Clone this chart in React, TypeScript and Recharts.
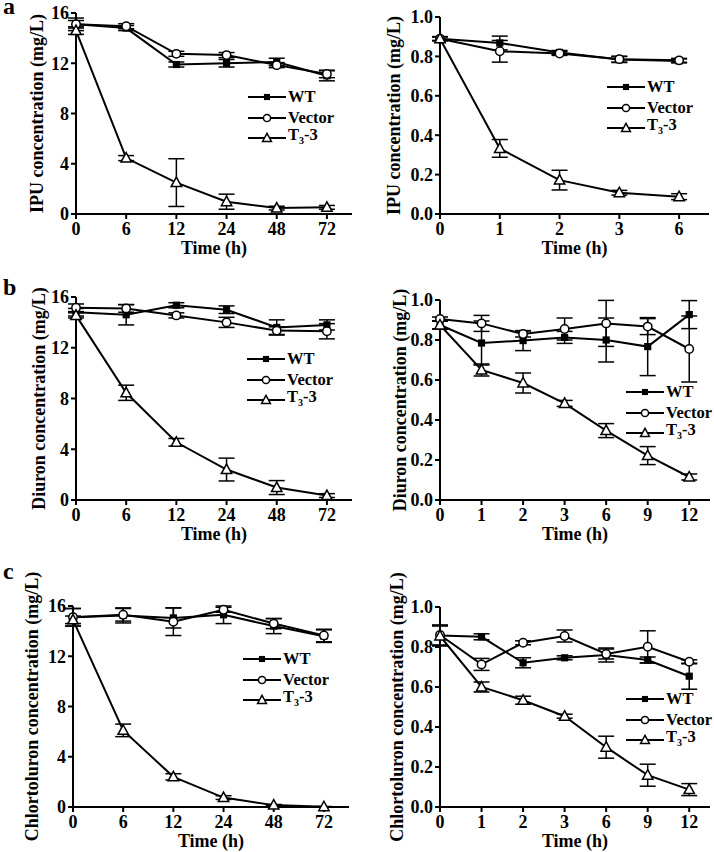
import React from 'react';
import { LineChart, Line, XAxis, YAxis, ErrorBar, Legend } from 'recharts';

const FONT = '"Liberation Serif", "Times New Roman", serif';

// --- a: IPU ---
const ipuLongTimes = ['0', '6', '12', '24', '48', '72'];
const ipuLongWT = [15.1, 14.8, 11.9, 12.0, 12.1, 11.0];
const ipuLongWTErr = [0.3, 0.2, 0.2, 0.3, 0.3, 0.4];
const ipuLongVec = [15.1, 14.95, 12.75, 12.65, 11.85, 11.15];
const ipuLongVecErr = [0.5, 0.2, 0.2, 0.2, 0.2, 0.3];
const ipuLongT3 = [14.6, 4.45, 2.5, 0.98, 0.47, 0.53];
const ipuLongT3Err = [0.3, 0.2, 1.9, 0.6, 0.15, 0.15];

const ipuShortTimes = ['0', '1', '2', '3', '6'];
const ipuShortWT = [0.89, 0.868, 0.82, 0.784, 0.777];
const ipuShortWTErr = [0.01, 0.035, 0.01, 0.015, 0.01];
const ipuShortVec = [0.89, 0.826, 0.815, 0.786, 0.78];
const ipuShortVecErr = [0.01, 0.055, 0.01, 0.015, 0.01];
const ipuShortT3 = [0.89, 0.333, 0.172, 0.108, 0.088];
const ipuShortT3Err = [0.01, 0.045, 0.05, 0.012, 0.015];

// --- b: Diuron ---
const diuLongTimes = ['0', '6', '12', '24', '48', '72'];
const diuLongWT = [14.8, 14.6, 15.35, 15.0, 13.6, 13.8];
const diuLongWTErr = [0.3, 0.8, 0.2, 0.3, 0.6, 0.4];
const diuLongVec = [15.15, 15.1, 14.55, 14.0, 13.35, 13.3];
const diuLongVecErr = [0.3, 0.3, 0.2, 0.4, 0.3, 0.6];
const diuLongT3 = [14.55, 8.45, 4.55, 2.4, 0.98, 0.35];
const diuLongT3Err = [0.2, 0.6, 0.3, 0.9, 0.55, 0.15];

const diuShortTimes = ['0', '1', '2', '3', '6', '9', '12'];
const diuShortWT = [0.875, 0.785, 0.797, 0.813, 0.8, 0.767, 0.927];
const diuShortWTErr = [0.02, 0.11, 0.05, 0.03, 0.11, 0.145, 0.07];
const diuShortVec = [0.905, 0.883, 0.83, 0.855, 0.883, 0.867, 0.755];
const diuShortVecErr = [0.01, 0.04, 0.015, 0.055, 0.115, 0.04, 0.165];
const diuShortT3 = [0.875, 0.65, 0.585, 0.483, 0.347, 0.222, 0.115];
const diuShortT3Err = [0.02, 0.03, 0.05, 0.015, 0.035, 0.045, 0.015];

// --- c: Chlortoluron ---
const chlLongTimes = ['0', '6', '12', '24', '48', '72'];
const chlLongWT = [15.1, 15.25, 15.05, 15.3, 14.4, 13.6];
const chlLongWTErr = [0.7, 0.6, 0.8, 0.7, 0.6, 0.5];
const chlLongVec = [15.1, 15.3, 14.75, 15.7, 14.6, 13.65];
const chlLongVecErr = [0.7, 0.5, 1.1, 0.2, 0.4, 0.5];
const chlLongT3 = [14.9, 6.1, 2.4, 0.75, 0.15, 0.02];
const chlLongT3Err = [0.3, 0.5, 0.25, 0.15, 0.05, 0.02];

const chlShortTimes = ['0', '1', '2', '3', '6', '9', '12'];
const chlShortWT = [0.858, 0.851, 0.721, 0.746, 0.76, 0.735, 0.654];
const chlShortWTErr = [0.05, 0.015, 0.025, 0.01, 0.035, 0.015, 0.065];
const chlShortVec = [0.86, 0.713, 0.821, 0.855, 0.765, 0.801, 0.726];
const chlShortVecErr = [0.05, 0.03, 0.01, 0.03, 0.025, 0.08, 0.01];
const chlShortT3 = [0.855, 0.6, 0.534, 0.454, 0.299, 0.159, 0.087];
const chlShortT3Err = [0.05, 0.025, 0.02, 0.01, 0.055, 0.055, 0.03];

const longTicks = [0, 4, 8, 12, 16];
const shortTicks = [0, 0.2, 0.4, 0.6, 0.8, 1.0];

function buildRows(times: string[], wt: number[], wtE: number[], vec: number[], vecE: number[], t3: number[], t3E: number[]) {
  return times.map((t, i) => ({
    i, time: t,
    wt: wt[i], wtErr: wtE[i],
    vec: vec[i], vecErr: vecE[i],
    t3: t3[i], t3Err: t3E[i],
  }));
}

function Marker({ kind, cx, cy, s = 1 }: { kind: string; cx: number; cy: number; s?: number }) {
  if (cx == null || cy == null) return null;
  if (kind === 'wt') {
    const h = 3.6 * s;
    return <rect x={cx - h} y={cy - h} width={2 * h} height={2 * h} fill="#000" />;
  }
  if (kind === 'vec') {
    return <circle cx={cx} cy={cy} r={4.2 * s} fill="#fff" stroke="#000" strokeWidth={1.5} />;
  }
  return (
    <polygon
      points={`${cx},${cy - 5.5 * s} ${cx + 5.2 * s},${cy + 4 * s} ${cx - 5.2 * s},${cy + 4 * s}`}
      fill="#fff" stroke="#000" strokeWidth={1.5}
    />
  );
}

const LegendBox = () => {
  const rows = [
    { kind: 'wt', label: <>WT</> },
    { kind: 'vec', label: <>Vector</> },
    { kind: 't3', label: <>T<sub style={{ fontSize: 10, verticalAlign: -4 }}>3</sub>-3</> },
  ];
  return (
    <div style={{ fontFamily: FONT, fontWeight: 'bold', fontSize: 16.5, color: '#000' }}>
      {rows.map((r) => (
        <div key={r.kind} style={{ display: 'flex', alignItems: 'center', height: 20.5, lineHeight: '20px' }}>
          <svg width={38} height={14} style={{ display: 'block', flex: 'none' }}>
            <line x1={0} y1={7} x2={38} y2={7} stroke="#000" strokeWidth={2} />
            <Marker kind={r.kind} cx={19} cy={7} s={0.85} />
          </svg>
          <span style={{ marginLeft: 2, whiteSpace: 'nowrap' }}>{r.label}</span>
        </div>
      ))}
    </div>
  );
};

interface PanelProps {
  rows: any[];
  times: string[];
  yMax: number;
  yTicks: number[];
  decimals: number;
  yLabel: string;
  left: number;
  plotTop: number;
  plotBottom: number;
  yAxisWidth: number;
  marginRight: number;
  labelOffset: number;
  legendLeft: number;
  legendRowY: number;
}

const TOP_PAD = 40;

function Panel(p: PanelProps) {
  const n = p.times.length;
  const chartTop = p.plotTop - TOP_PAD;
  const height = p.plotBottom - p.plotTop + TOP_PAD + 62;
  const axisStyle = { stroke: '#000', strokeWidth: 2 };
  const tickStyle = { fill: '#000', fontSize: 18, fontWeight: 'bold', fontFamily: FONT };
  return (
    <div style={{ position: 'absolute', left: p.left, top: chartTop }}>
      <LineChart
        width={357}
        height={height}
        data={p.rows}
        margin={{ top: TOP_PAD, right: p.marginRight, bottom: 0, left: 0 }}
      >
        <XAxis
          dataKey="i"
          type="number"
          domain={[0, n - 0.5]}
          ticks={p.times.map((_, i) => i)}
          interval={0}
          tickFormatter={(v: number) => p.times[v]}
          height={62}
          tickSize={5}
          tickMargin={3}
          axisLine={axisStyle}
          tickLine={axisStyle}
          tick={tickStyle}
          label={{ value: 'Time (h)', position: 'insideTop', offset: 27, style: { ...tickStyle, fill: '#000' } }}
        />
        <YAxis
          type="number"
          domain={[0, p.yMax]}
          ticks={p.yTicks}
          interval={0}
          width={p.yAxisWidth}
          tickSize={5}
          tickMargin={2}
          tickFormatter={(v: number) => v.toFixed(p.decimals)}
          axisLine={axisStyle}
          tickLine={axisStyle}
          tick={tickStyle}
          label={{
            value: p.yLabel, angle: -90, position: 'insideLeft', offset: p.labelOffset,
            style: { ...tickStyle, textAnchor: 'middle' },
          }}
        />
        <Legend
          layout="vertical"
          align="center"
          verticalAlign="middle"
          content={() => <LegendBox />}
          wrapperStyle={{ left: p.legendLeft, top: p.legendRowY - chartTop - 10, width: 88, height: 62 }}
        />
        <Line dataKey="wt" name="WT" stroke="#000" strokeWidth={2} isAnimationActive={false}
          dot={(d: any) => <Marker key={`wt-${d.index}`} kind="wt" cx={d.cx} cy={d.cy} />}>
          <ErrorBar dataKey="wtErr" direction="y" width={8} stroke="#000" strokeWidth={1.5} />
        </Line>
        <Line dataKey="vec" name="Vector" stroke="#000" strokeWidth={2} isAnimationActive={false}
          dot={(d: any) => <Marker key={`vec-${d.index}`} kind="vec" cx={d.cx} cy={d.cy} />}>
          <ErrorBar dataKey="vecErr" direction="y" width={8} stroke="#000" strokeWidth={1.5} />
        </Line>
        <Line dataKey="t3" name="T3-3" stroke="#000" strokeWidth={2} isAnimationActive={false}
          dot={(d: any) => <Marker key={`t3-${d.index}`} kind="t3" cx={d.cx} cy={d.cy} />}>
          <ErrorBar dataKey="t3Err" direction="y" width={8} stroke="#000" strokeWidth={1.5} />
        </Line>
      </LineChart>
    </div>
  );
}

const letterStyle: React.CSSProperties = {
  position: 'absolute', fontFamily: FONT, fontWeight: 'bold', fontSize: 24, lineHeight: '10px', color: '#000',
};

export default function App() {
  return (
    <div style={{ position: 'absolute', left: 0, top: 0, width: 714, height: 852, background: '#fff', overflow: 'hidden' }}>
      <div style={{ ...letterStyle, left: 3, top: 1 }}>a</div>
      <div style={{ ...letterStyle, left: 3, top: 282 }}>b</div>
      <div style={{ ...letterStyle, left: 3, top: 566 }}>c</div>

      <Panel rows={buildRows(ipuLongTimes, ipuLongWT, ipuLongWTErr, ipuLongVec, ipuLongVecErr, ipuLongT3, ipuLongT3Err)}
        times={ipuLongTimes} yMax={16} yTicks={longTicks} decimals={0} yLabel="IPU concentration (mg/L)"
        left={0} plotTop={13} plotBottom={214} yAxisWidth={76} marginRight={5} labelOffset={37}
        legendLeft={248} legendRowY={97} />
      <Panel rows={buildRows(ipuShortTimes, ipuShortWT, ipuShortWTErr, ipuShortVec, ipuShortVecErr, ipuShortT3, ipuShortT3Err)}
        times={ipuShortTimes} yMax={1} yTicks={shortTicks} decimals={1} yLabel="IPU concentration (mg/L)"
        left={357} plotTop={17} plotBottom={214} yAxisWidth={83} marginRight={5} labelOffset={37}
        legendLeft={250} legendRowY={87} />

      <Panel rows={buildRows(diuLongTimes, diuLongWT, diuLongWTErr, diuLongVec, diuLongVecErr, diuLongT3, diuLongT3Err)}
        times={diuLongTimes} yMax={16} yTicks={longTicks} decimals={0} yLabel="Diuron concentration (mg/L)"
        left={0} plotTop={297} plotBottom={500} yAxisWidth={76} marginRight={5} labelOffset={39}
        legendLeft={247} legendRowY={359} />
      <Panel rows={buildRows(diuShortTimes, diuShortWT, diuShortWTErr, diuShortVec, diuShortVecErr, diuShortT3, diuShortT3Err)}
        times={diuShortTimes} yMax={1} yTicks={shortTicks} decimals={1} yLabel="Diuron concentration (mg/L)"
        left={357} plotTop={300} plotBottom={500} yAxisWidth={83} marginRight={4} labelOffset={43}
        legendLeft={269} legendRowY={392} />

      <Panel rows={buildRows(chlLongTimes, chlLongWT, chlLongWTErr, chlLongVec, chlLongVecErr, chlLongT3, chlLongT3Err)}
        times={chlLongTimes} yMax={16} yTicks={longTicks} decimals={0} yLabel="Chlortoluron concentration (mg/L)"
        left={0} plotTop={606} plotBottom={807} yAxisWidth={73} marginRight={8} labelOffset={32}
        legendLeft={243} legendRowY={659} />
      <Panel rows={buildRows(chlShortTimes, chlShortWT, chlShortWTErr, chlShortVec, chlShortVecErr, chlShortT3, chlShortT3Err)}
        times={chlShortTimes} yMax={1} yTicks={shortTicks} decimals={1} yLabel="Chlortoluron concentration (mg/L)"
        left={357} plotTop={607} plotBottom={807} yAxisWidth={83} marginRight={4} labelOffset={40}
        legendLeft={269} legendRowY={699} />
    </div>
  );
}
